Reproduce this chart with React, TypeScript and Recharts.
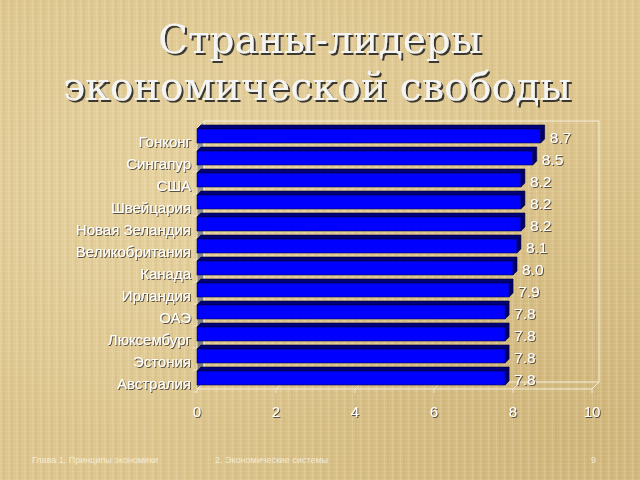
import { BarChart, Bar, XAxis, YAxis, LabelList } from 'recharts'

const countries = [
  'Гонконг',
  'Сингапур',
  'США',
  'Швейцария',
  'Новая Зеландия',
  'Великобритания',
  'Канада',
  'Ирландия',
  'ОАЭ',
  'Люксембург',
  'Эстония',
  'Австралия',
]
const scores = [8.7, 8.5, 8.2, 8.2, 8.2, 8.1, 8.0, 7.9, 7.8, 7.8, 7.8, 7.8]
const xTicks = [0, 2, 4, 6, 8, 10]

const titleLines = ['Страны-лидеры', 'экономической свободы']
const footerLeft = 'Глава 1. Принципы  экономики'
const footerMid = '2. Экономические системы'
const footerPage = '9'

const data = countries.map((country, i) => ({ country, score: scores[i] }))

// plot area (front plane) of the chart
const W = 640
const H = 480
const PLOT = { left: 197, right: 592, top: 125, bottom: 389 }
const DEPTH = 7
const BAR_DEPTH = 4
const FONT = '"Liberation Sans", Arial, sans-serif'

const BG = {
  backgroundColor: '#dec68e',
  backgroundImage: [
    'repeating-linear-gradient(90deg, rgba(255,250,225,0.16) 0px, rgba(255,250,225,0.16) 1px, rgba(0,0,0,0) 1px, rgba(0,0,0,0) 3px, rgba(120,90,30,0.06) 3px, rgba(120,90,30,0.06) 5px, rgba(0,0,0,0) 5px, rgba(0,0,0,0) 8px)',
    'repeating-linear-gradient(0deg, rgba(255,250,225,0.10) 0px, rgba(255,250,225,0.10) 1px, rgba(0,0,0,0) 1px, rgba(0,0,0,0) 4px)',
    'radial-gradient(ellipse at 30% 40%, rgba(255,245,210,0.25), rgba(0,0,0,0) 60%)',
    'radial-gradient(ellipse at 90% 90%, rgba(150,110,40,0.18), rgba(0,0,0,0) 55%)',
  ].join(', '),
}

function ShadowText({ x, y, children, size, anchor = 'start', family = FONT, filter = 'url(#txtShadow)', fill = '#ffffff' }: any) {
  return (
    <text x={x} y={y} fontSize={size} fontFamily={family} textAnchor={anchor} fill={fill} filter={filter}>
      {children}
    </text>
  )
}

function Box3D(props: any) {
  const { x, y, width, height } = props
  const d = BAR_DEPTH
  const top = `${x},${y} ${x + d},${y - d} ${x + width + d},${y - d} ${x + width},${y}`
  const side = `${x + width},${y} ${x + width + d},${y - d} ${x + width + d},${y + height - d} ${x + width},${y + height}`
  return (
    <g>
      <polygon points={top} fill="#00007a" stroke="#000030" strokeWidth={0.6} />
      <polygon points={side} fill="#00006a" stroke="#000030" strokeWidth={0.6} />
      <rect x={x} y={y} width={width} height={height} fill="#0000ff" stroke="#000040" strokeWidth={0.6} />
    </g>
  )
}

function CountryTick(props: any) {
  const { x, y, payload } = props
  return (
    <ShadowText x={x + 2} y={y + 11} size={15} anchor="end">
      {payload.value}
    </ShadowText>
  )
}

function ValueTick(props: any) {
  const { x, y, payload } = props
  return (
    <ShadowText x={x} y={y + 20} size={15} anchor="middle">
      {payload.value}
    </ShadowText>
  )
}

function ValueLabel(props: any) {
  const { x, y, width, height, value } = props
  return (
    <ShadowText x={x + width + 9} y={y + height / 2 + 7} size={15.5}>
      {Number(value).toFixed(1)}
    </ShadowText>
  )
}

function Frame() {
  const { left, right, top, bottom } = PLOT
  const d = DEPTH
  const band = (bottom - top) / countries.length
  const unit = (right - left) / (xTicks[xTicks.length - 1] - xTicks[0])
  const line = '#f6efdc'
  const serif = '"DejaVu Serif", serif'
  return (
    <svg width={W} height={H} style={{ position: 'absolute', left: 0, top: 0 }}>
      <defs>
        <linearGradient id="wall" x1="0" y1="0" x2="0" y2="1">
          <stop offset="0" stopColor="#9a9a9a" />
          <stop offset="1" stopColor="#7a7a7a" />
        </linearGradient>
        <filter id="txtShadow" x="-10%" y="-30%" width="130%" height="160%">
          <feDropShadow dx={1} dy={1} stdDeviation={0.3} floodColor="#3c3426" floodOpacity={0.8} />
        </filter>
        <filter id="titleShadow" x="-10%" y="-30%" width="130%" height="160%">
          <feDropShadow dx={2} dy={2} stdDeviation={0.5} floodColor="#222222" floodOpacity={0.85} />
        </filter>
      </defs>
      {/* title */}
      <ShadowText x={320} y={53} size={39} anchor="middle" family={serif} filter="url(#titleShadow)" fill="#f4f4f2">
        {titleLines[0]}
      </ShadowText>
      <ShadowText x={317} y={100} size={39.5} anchor="middle" family={serif} filter="url(#titleShadow)" fill="#f4f4f2">
        {titleLines[1]}
      </ShadowText>

      {/* left wall */}
      <polygon
        points={`${left},${top + 3} ${left + d},${top - 4} ${left + d},${bottom - d} ${left},${bottom}`}
        fill="url(#wall)"
        stroke={line}
        strokeWidth={0.8}
      />
      {/* back wall outline */}
      <rect x={left + d} y={top - 4} width={right - left} height={bottom - d - (top - 4)} fill="none" stroke={line} strokeWidth={1} />
      {/* floor */}
      <line x1={left} y1={bottom} x2={right} y2={bottom} stroke={line} strokeWidth={1} />
      <line x1={right} y1={bottom} x2={right + d} y2={bottom - d} stroke={line} strokeWidth={1} />
      {xTicks.map((t) => {
        const px = left + (t - xTicks[0]) * unit
        return (
          <g key={t}>
            <line x1={px} y1={bottom} x2={px + d} y2={bottom - d} stroke={line} strokeWidth={0.8} />
            <line x1={px} y1={bottom} x2={px} y2={bottom + 4} stroke={line} strokeWidth={0.8} />
          </g>
        )
      })}
      {/* category tick marks */}
      {countries.map((c, i) => (
        <line key={c} x1={left - 4} y1={top + (i + 1) * band + 3} x2={left} y2={top + (i + 1) * band + 3} stroke={line} strokeWidth={0.8} />
      ))}

      {/* footer */}
      <text x={32} y={463} fontSize={9} fontFamily={FONT} fill="#fbf6e6" fillOpacity={0.8}>
        {footerLeft}
      </text>
      <text x={215} y={463} fontSize={9} fontFamily={FONT} fill="#fbf6e6" fillOpacity={0.8}>
        {footerMid}
      </text>
      <text x={596} y={463} fontSize={9} fontFamily={FONT} fill="#fbf6e6" fillOpacity={0.8} textAnchor="end">
        {footerPage}
      </text>
    </svg>
  )
}

export default function App() {
  const yWidth = 190
  const xHeight = 40
  return (
    <div style={{ position: 'absolute', left: 0, top: 0, width: W, height: H, overflow: 'hidden', ...BG }}>
      <Frame />
      <div style={{ position: 'absolute', left: 0, top: 0 }}>
        <BarChart
          width={W}
          height={H}
          data={data}
          layout="vertical"
          barSize={14}
          margin={{ top: PLOT.top, right: W - PLOT.right, bottom: H - PLOT.bottom - xHeight, left: PLOT.left - yWidth }}
        >
          <XAxis
            type="number"
            domain={[0, 10]}
            ticks={xTicks}
            height={xHeight}
            axisLine={false}
            tickLine={false}
            tick={<ValueTick />}
            interval={0}
          />
          <YAxis
            type="category"
            dataKey="country"
            width={yWidth}
            axisLine={false}
            tickLine={false}
            tick={<CountryTick />}
            interval={0}
          />
          <Bar dataKey="score" shape={<Box3D />} isAnimationActive={false}>
            <LabelList dataKey="score" content={<ValueLabel />} />
          </Bar>
        </BarChart>
      </div>
    </div>
  )
}
